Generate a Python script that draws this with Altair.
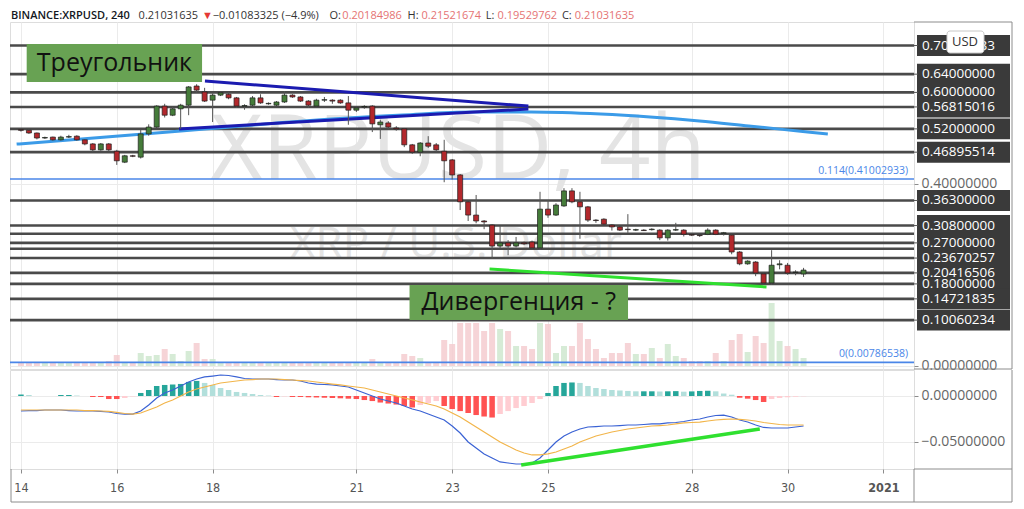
import altair as alt
import pandas as pd

# ---------------- data ----------------
# time = day of December 2020 (32 = 1 January 2021); 4h candles from 13 Dec 20:00
first_candle_day = 13 + 20 / 24
candle_hours = 4

open_ = [0.518, 0.518, 0.517, 0.511, 0.500, 0.502, 0.496, 0.502, 0.504, 0.496,
         0.487, 0.474, 0.487, 0.471, 0.447, 0.461, 0.458, 0.509, 0.524, 0.570,
         0.550, 0.564, 0.572, 0.614, 0.601, 0.583, 0.594, 0.596, 0.588, 0.570,
         0.572, 0.588, 0.575, 0.572, 0.579, 0.594, 0.590, 0.581, 0.570, 0.583,
         0.583, 0.583, 0.577, 0.561, 0.568, 0.570, 0.529, 0.533, 0.522, 0.520,
         0.485, 0.469, 0.489, 0.485, 0.471, 0.452, 0.419, 0.360, 0.331, 0.318,
         0.309, 0.263, 0.270, 0.263, 0.270, 0.272, 0.259, 0.344, 0.331, 0.351,
         0.384, 0.360, 0.349, 0.320, 0.322, 0.309, 0.305, 0.300, 0.298, 0.298,
         0.299, 0.298, 0.281, 0.298, 0.298, 0.288, 0.287, 0.289, 0.298, 0.291,
         0.287, 0.250, 0.224, 0.228, 0.202, 0.182, 0.222, 0.221, 0.205, 0.2018]
high = [0.522, 0.520, 0.520, 0.512, 0.503, 0.503, 0.505, 0.507, 0.506, 0.497,
        0.489, 0.489, 0.489, 0.474, 0.463, 0.463, 0.518, 0.530, 0.572, 0.575,
        0.568, 0.575, 0.614, 0.618, 0.610, 0.598, 0.601, 0.600, 0.590, 0.574,
        0.592, 0.596, 0.578, 0.581, 0.603, 0.596, 0.592, 0.583, 0.586, 0.590,
        0.585, 0.585, 0.592, 0.568, 0.572, 0.572, 0.540, 0.537, 0.526, 0.522,
        0.487, 0.491, 0.504, 0.489, 0.496, 0.454, 0.421, 0.362, 0.375, 0.320,
        0.311, 0.307, 0.276, 0.283, 0.273, 0.275, 0.382, 0.364, 0.357, 0.390,
        0.390, 0.382, 0.351, 0.322, 0.324, 0.311, 0.307, 0.333, 0.301, 0.300,
        0.302, 0.300, 0.300, 0.314, 0.300, 0.289, 0.288, 0.302, 0.300, 0.294,
        0.289, 0.252, 0.232, 0.230, 0.204, 0.254, 0.232, 0.226, 0.210, 0.2152]
low = [0.516, 0.514, 0.509, 0.497, 0.498, 0.494, 0.494, 0.500, 0.494, 0.484,
       0.470, 0.472, 0.471, 0.441, 0.445, 0.458, 0.455, 0.505, 0.522, 0.545,
       0.548, 0.520, 0.550, 0.600, 0.579, 0.535, 0.592, 0.585, 0.566, 0.562,
       0.570, 0.575, 0.573, 0.570, 0.577, 0.588, 0.579, 0.566, 0.568, 0.579,
       0.575, 0.575, 0.529, 0.557, 0.564, 0.513, 0.498, 0.520, 0.516, 0.480,
       0.465, 0.460, 0.478, 0.470, 0.403, 0.409, 0.342, 0.318, 0.313, 0.300,
       0.235, 0.258, 0.243, 0.260, 0.265, 0.256, 0.255, 0.325, 0.329, 0.349,
       0.357, 0.279, 0.316, 0.314, 0.309, 0.297, 0.296, 0.292, 0.296, 0.296,
       0.297, 0.276, 0.275, 0.296, 0.284, 0.285, 0.283, 0.287, 0.287, 0.286,
       0.245, 0.221, 0.222, 0.197, 0.180, 0.178, 0.212, 0.200, 0.199, 0.1953]
close = [0.519, 0.517, 0.511, 0.500, 0.501, 0.496, 0.502, 0.503, 0.496, 0.487,
         0.474, 0.487, 0.474, 0.450, 0.461, 0.460, 0.509, 0.524, 0.570, 0.550,
         0.564, 0.572, 0.612, 0.605, 0.581, 0.594, 0.599, 0.588, 0.570, 0.571,
         0.588, 0.577, 0.576, 0.579, 0.594, 0.590, 0.581, 0.572, 0.583, 0.584,
         0.581, 0.577, 0.561, 0.566, 0.569, 0.531, 0.535, 0.524, 0.520, 0.485,
         0.469, 0.489, 0.482, 0.474, 0.450, 0.419, 0.360, 0.331, 0.318, 0.316,
         0.263, 0.270, 0.263, 0.270, 0.268, 0.259, 0.344, 0.331, 0.353, 0.384,
         0.360, 0.349, 0.320, 0.319, 0.311, 0.305, 0.298, 0.299, 0.299, 0.297,
         0.300, 0.281, 0.298, 0.299, 0.289, 0.287, 0.286, 0.298, 0.289, 0.292,
         0.250, 0.224, 0.230, 0.204, 0.182, 0.221, 0.224, 0.204, 0.206, 0.2103]
# relative volume (only relative heights are readable)
volume_rel = [4, 3, 3, 4, 3, 3, 3, 4, 3, 3,
              4, 3, 5, 11, 4, 3, 13, 10, 11, 17,
              12, 5, 15, 23, 7, 7, 4, 3, 3, 3,
              3, 4, 3, 3, 3, 4, 3, 3, 3, 3,
              3, 4, 3, 3, 4, 7, 4, 4, 3, 12,
              10, 8, 4, 4, 26, 22, 43, 43, 43, 35,
              43, 37, 35, 20, 20, 17, 43, 42, 13, 20,
              20, 43, 27, 17, 8, 13, 13, 23, 12, 12,
              18, 8, 22, 10, 8, 5, 5, 5, 13, 5,
              26, 32, 14, 30, 23, 63, 25, 20, 17, 8]
macd_line = [-0.0163, -0.0163, -0.0158, -0.0158, -0.0152, -0.0152, -0.0152, -0.0158, -0.0163, -0.0163,
             -0.0163, -0.0168, -0.0174, -0.0190, -0.0196, -0.0196, -0.0163, -0.0098, -0.0022, 0.0033,
             0.0065, 0.0109, 0.0152, 0.0185, 0.0207, 0.0217, 0.0228, 0.0223, 0.0207, 0.0190,
             0.0185, 0.0185, 0.0185, 0.0179, 0.0174, 0.0174, 0.0163, 0.0141, 0.0130, 0.0125,
             0.0120, 0.0109, 0.0098, 0.0065, 0.0033, 0.0000, -0.0033, -0.0054, -0.0076, -0.0109,
             -0.0141, -0.0163, -0.0196, -0.0228, -0.0261, -0.0326, -0.0402, -0.0500, -0.0565, -0.0630,
             -0.0674, -0.0717, -0.0728, -0.0739, -0.0739, -0.0728, -0.0674, -0.0587, -0.0500, -0.0435,
             -0.0391, -0.0359, -0.0337, -0.0332, -0.0326, -0.0326, -0.0321, -0.0315, -0.0315, -0.0310,
             -0.0304, -0.0304, -0.0293, -0.0288, -0.0277, -0.0261, -0.0250, -0.0228, -0.0212, -0.0207,
             -0.0228, -0.0261, -0.0283, -0.0315, -0.0342, -0.0348, -0.0348, -0.0348, -0.0337, -0.0326]
signal_line = [-0.0152, -0.0152, -0.0152, -0.0152, -0.0152, -0.0152, -0.0152, -0.0152, -0.0152, -0.0158,
               -0.0158, -0.0163, -0.0168, -0.0179, -0.0190, -0.0196, -0.0185, -0.0152, -0.0120, -0.0076,
               -0.0043, 0.0000, 0.0043, 0.0076, 0.0098, 0.0120, 0.0141, 0.0152, 0.0163, 0.0174,
               0.0179, 0.0185, 0.0185, 0.0185, 0.0179, 0.0174, 0.0168, 0.0163, 0.0152, 0.0141,
               0.0130, 0.0120, 0.0109, 0.0098, 0.0087, 0.0065, 0.0043, 0.0022, 0.0000, -0.0022,
               -0.0043, -0.0065, -0.0087, -0.0109, -0.0141, -0.0185, -0.0228, -0.0283, -0.0337, -0.0391,
               -0.0446, -0.0500, -0.0543, -0.0587, -0.0620, -0.0641, -0.0641, -0.0630, -0.0609, -0.0576,
               -0.0543, -0.0500, -0.0467, -0.0435, -0.0413, -0.0391, -0.0375, -0.0359, -0.0348, -0.0337,
               -0.0326, -0.0321, -0.0315, -0.0304, -0.0293, -0.0288, -0.0283, -0.0272, -0.0261, -0.0255,
               -0.0250, -0.0255, -0.0261, -0.0272, -0.0288, -0.0299, -0.0310, -0.0315, -0.0315, -0.0315]
macd_hist = [0.0011, 0.0016, 0.0011, 0.0, 0.0, 0.0, 0.0011, 0.0011, 0.0005, 0.0,
             -0.0011, -0.0011, -0.0033, -0.0033, -0.0022, -0.0005, 0.0033, 0.0065, 0.0109, 0.0120,
             0.0125, 0.0131, 0.0153, 0.0164, 0.0142, 0.0120, 0.0087, 0.0065, 0.0044, 0.0033,
             0.0022, 0.0011, 0.0005, -0.0011, -0.0005, -0.0011, -0.0011, -0.0014, -0.0016, -0.0019,
             -0.0022, -0.0025, -0.0029, -0.0033, -0.0044, -0.0055, -0.0071, -0.0082, -0.0093, -0.0109,
             -0.0125, -0.0098, -0.0076, -0.0055, -0.0109, -0.0142, -0.0164, -0.0185, -0.0207, -0.0223,
             -0.0234, -0.0196, -0.0164, -0.0131, -0.0109, -0.0076, -0.0033, 0.0033, 0.0109, 0.0142,
             0.0147, 0.0142, 0.0109, 0.0087, 0.0076, 0.0065, 0.0060, 0.0055, 0.0051, 0.0051,
             0.0051, 0.0049, 0.0051, 0.0053, 0.0047, 0.0050, 0.0055, 0.0057, 0.0051, 0.0027,
             0.0014, -0.0019, -0.0029, -0.0044, -0.0065, -0.0033, -0.0022, -0.0014, -0.0008, -0.0003]

# horizontal levels with price labels, and unlabelled extra levels
level_prices = [0.70282283, 0.64, 0.60, 0.56815016, 0.52, 0.46895514, 0.363,
                0.308, 0.27, 0.23670257, 0.20416506, 0.18, 0.14721835, 0.10060234]
level_labels = ["0.70282283", "0.64000000", "0.60000000", "0.56815016", "0.52000000",
                "0.46895514", "0.36300000", "0.30800000", "0.27000000", "0.23670257",
                "0.20416506", "0.18000000", "0.14721835", "0.10060234"]
extra_levels = [0.29, 0.257]
fib_prices = [0.41002933, 0.00786538]
fib_labels = ["0.114(0.41002933)", "0(0.00786538)"]

# drawn lines (day, price)
ma_days = [13.91, 15.78, 17.84, 19.90, 21.97, 23.41, 24.65, 26.10, 27.13, 28.16, 29.19, 30.22, 30.84]
ma_prices = [0.4866, 0.5022, 0.5197, 0.5373, 0.5504, 0.5570, 0.5570, 0.5526, 0.5461, 0.5373, 0.5263, 0.5154, 0.5088]
tri_seg = ["upper", "upper", "lower", "lower"]
tri_days = [17.84, 24.59, 17.30, 24.59]
tri_prices = [0.625, 0.570, 0.520, 0.5636]
div_price_days = [23.78, 29.56]
div_price_vals = [0.2127, 0.1732]
div_macd_days = [24.44, 29.42]
div_macd_vals = [-0.0750, -0.0359]

note_texts = ["Треугольник", "Дивергенция - ?"]
note_day1 = [14.12, 22.11]
note_day2 = [17.78, 26.67]
note_p1 = [0.706, 0.1776]
note_p2 = [0.623, 0.1009]

header_texts = ["0.21031635", "▼", "−0.01083325 (−4.9%)", "O:", "0.20184986",
                "H:", "0.21521674", "L:", "0.19529762", "C:", "0.21031635"]
header_colors = ["#333333", "#e53935", "#333333", "#333333", "#e57373",
                 "#333333", "#e57373", "#333333", "#e57373", "#333333", "#e57373"]
header_px = [125, 189, 200, 318, 331, 397, 411, 476, 488, 553, 566]
x_tick_days = [14, 16, 18, 21, 23, 25, 28, 30, 32]

# ---------------- tables ----------------
n = len(open_)
t = [first_candle_day + i * candle_hours / 24 for i in range(n)]
GREEN, RED = "#457c3a", "#b3282c"
candles = pd.DataFrame({"t": t, "open": open_, "high": high, "low": low, "close": close,
                        "vol": volume_rel})
candles["bcol"] = [GREEN if c >= o else RED for o, c in zip(open_, close)]
candles["vcol"] = ["#cfe7cf" if c >= o else "#f5ccd0" for o, c in zip(open_, close)]

hcol = []
for i, v in enumerate(macd_hist):
    prev = macd_hist[i - 1] if i > 0 else 0
    if v >= 0:
        hcol.append("#26a69a" if v >= prev else "#b2dfdb")
    else:
        hcol.append("#ff5252" if v <= prev else "#ffcdd2")
macd_df = pd.DataFrame({"t": t, "macd": macd_line, "signal": signal_line, "hist": macd_hist, "hcol": hcol})

levels = pd.DataFrame({"price": level_prices, "label": level_labels})
all_lines = pd.DataFrame({"price": level_prices + extra_levels})
fib = pd.DataFrame({"price": fib_prices, "label": fib_labels})
ma = pd.DataFrame({"day": ma_days, "price": ma_prices})
tri = pd.DataFrame({"seg": tri_seg, "day": tri_days, "price": tri_prices})
divp = pd.DataFrame({"day": div_price_days, "price": div_price_vals})
divm = pd.DataFrame({"day": div_macd_days, "val": div_macd_vals})
notes = pd.DataFrame({"txt": note_texts, "d1": note_day1, "d2": note_day2, "p1": note_p1, "p2": note_p2})
header = pd.DataFrame({"txt": header_texts, "col": header_colors, "px": header_px})
one = pd.DataFrame({"a": [0]})

# ---------------- layout ----------------
W, H1, H2, AX, TA = 904, 347, 99, 98, 33
XDOM = [13.876, 32.534]
# candles whose body would stick out past the left frame are left out of view
in_view = f"datum.t > {XDOM[0] + 0.06}"
xs = alt.Scale(domain=XDOM, nice=False, zero=False)
ps = alt.Scale(domain=[-0.0066, 0.7544], nice=False, zero=False)
ms = alt.Scale(domain=[-0.07935, 0.02826], nice=False, zero=False)
GRID = "#ebebeb"
FRAME = "#8c8c8c"
FONT = "Open Sans"

x_hidden = alt.Axis(values=x_tick_days, labels=False, ticks=False, domain=False, grid=True,
                    gridColor=GRID, title=None)
x_bottom = alt.Axis(values=x_tick_days, labelExpr="datum.value == 32 ? '2021' : datum.value",
                    grid=True, gridColor=GRID, tickSize=4, tickColor=FRAME, labelFontSize=12.5,
                    labelColor="#555555", labelFont="Liberation Sans Narrow, DejaVu Sans Condensed, sans-serif",
                    labelPadding=8, domain=False, labelFlush=False, title=None,
                    labelFontWeight={"condition": {"test": "datum.value == 32", "value": "bold"},
                                     "value": "normal"})
price_axis = alt.Axis(orient="right", values=[0.0, 0.4], format=".8f", title=None, labelColor="#666666",
                      labelFontSize=14, labelFont=FONT, tickSize=4, tickColor=FRAME, domain=False,
                      grid=True, gridColor=GRID, labelPadding=3)
macd_axis = alt.Axis(orient="right", values=[0.0, -0.05], format=".8f", title=None, labelColor="#666666",
                     labelFontSize=14, labelFont=FONT, tickSize=4, tickColor=FRAME, domain=False,
                     grid=True, gridColor=GRID, labelPadding=3)


def PX(f):
    return alt.X(f, type="quantitative", scale=xs, axis=x_hidden)


def PY(f):
    return alt.Y(f, type="quantitative", scale=ps, axis=price_axis)


def MX(f):
    return alt.X(f, type="quantitative", scale=xs, axis=x_bottom)


def MY(f):
    return alt.Y(f, type="quantitative", scale=ms, axis=macd_axis)


# ---------------- price pane ----------------
wm1 = alt.Chart(pd.DataFrame({"w": ["XRPUSD, 4h"]})).mark_text(
    fontSize=90, font=FONT, color="#e4e4e4").encode(x=alt.value(448), y=alt.value(130), text="w:N")
wm2 = alt.Chart(pd.DataFrame({"w": ["XRP / U.S. Dollar"]})).mark_text(
    fontSize=44, font=FONT, color="#e4e4e4").encode(x=alt.value(446), y=alt.value(223), text="w:N")
vol = alt.Chart(candles).transform_filter(in_view).mark_bar(size=6, opacity=0.85).encode(
    x=PX("t"), y=alt.Y("vol:Q", scale=alt.Scale(domain=[-3, 344], nice=False), axis=None),
    fill=alt.Fill("vcol:N", scale=None))
back = alt.layer(wm1, wm2, vol)

fib_rule = alt.Chart(fib).mark_rule(color="#4a86e8", strokeWidth=1.6).encode(y=PY("price"))
fib_txt = alt.Chart(fib).mark_text(align="right", baseline="bottom", dy=-3, fontSize=10.5, font=FONT,
                                   color="#4a86e8").encode(x=alt.value(W - 6), y=PY("price"), text="label:N")
lvl_rule = alt.Chart(all_lines).mark_rule(color="#4a4a4a", strokeWidth=2.6).encode(y=PY("price"))
ma_line = alt.Chart(ma).mark_line(color="#3b9be8", strokeWidth=3, interpolate="monotone").encode(
    x=PX("day"), y=PY("price"))
tri_line = alt.Chart(tri).mark_line(color="#1b1bb0", strokeWidth=3).encode(
    x=PX("day"), y=PY("price"), detail="seg:N")
wick = alt.Chart(candles).transform_filter(in_view).mark_rule(color="#555555", strokeWidth=1).encode(
    x=PX("t"), y=PY("low"), y2="high:Q")
body = alt.Chart(candles).transform_filter(in_view).mark_bar(size=5, stroke="#1e1e1e", strokeWidth=0.7).encode(
    x=PX("t"), y=PY("open"), y2="close:Q", fill=alt.Fill("bcol:N", scale=None))
divp_line = alt.Chart(divp).mark_line(color="#2fe02f", strokeWidth=3).encode(x=PX("day"), y=PY("price"))
note_box = alt.Chart(notes).mark_rect(color="#68a253").encode(
    x=PX("d1"), x2="d2:Q", y=PY("p1"), y2="p2:Q")
note_txt = alt.Chart(notes).transform_calculate(
    cx="(datum.d1 + datum.d2) / 2", cy="(datum.p1 + datum.p2) / 2").mark_text(
    font=FONT, fontSize=25, color="#111111", baseline="middle").encode(
    x=PX("cx"), y=PY("cy"), text="txt:N")
lab_box = alt.Chart(levels).transform_calculate(
    top="datum.price + 0.023", bot="datum.price - 0.023").mark_rect(color="#3a3a3a").encode(
    x=alt.value(W + 3), x2=alt.value(W + 96), y=PY("top"), y2="bot:Q")
lab_tick = alt.Chart(levels).mark_rule(color="#555555").encode(
    x=alt.value(W), x2=alt.value(W + 4), y=PY("price"))
lab_txt = alt.Chart(levels).mark_text(align="left", baseline="middle", font=FONT, fontSize=13.5,
                                      color="white").encode(x=alt.value(W + 8), y=PY("price"), text="label:N")
usd_box = alt.Chart(one).mark_rect(fill="white", stroke="#c8c8c8", cornerRadius=3).encode(
    x=alt.value(W + 33), x2=alt.value(W + 70), y=alt.value(9), y2=alt.value(31))
usd_txt = alt.Chart(pd.DataFrame({"u": ["USD"]})).mark_text(font=FONT, fontSize=13, color="#333333").encode(
    x=alt.value(W + 51), y=alt.value(20), text="u:N")
head0 = alt.Chart(pd.DataFrame({"h": ["BINANCE:XRPUSD, 240"]})).mark_text(
    align="left", baseline="middle", font=FONT, fontSize=11, fontWeight=600, color="#131722").encode(
    x=alt.value(1), y=alt.value(-6), text="h:N")
head = alt.Chart(header).transform_calculate(
    d=f"{XDOM[0]} + datum.px * {(XDOM[1] - XDOM[0]) / W}").mark_text(
    align="left", baseline="middle", font=FONT, fontSize=11).encode(
    x=PX("d"), y=alt.value(-6), text="txt:N", color=alt.Color("col:N", scale=None))
fr1 = alt.Chart(one).mark_rule(color=FRAME).encode(x=alt.value(W), x2=alt.value(W + AX), y=alt.value(0))
fr2 = alt.Chart(one).mark_rule(color=FRAME).encode(x=alt.value(W), x2=alt.value(W + AX), y=alt.value(H1))
fr3 = alt.Chart(one).mark_rule(color=FRAME).encode(x=alt.value(W + AX), y=alt.value(0), y2=alt.value(H1))

front = alt.layer(fib_rule, fib_txt, lvl_rule, ma_line, tri_line, wick, body, divp_line,
                  note_box, note_txt, lab_box, lab_tick, lab_txt, usd_box, usd_txt, head0, head,
                  fr1, fr2, fr3)
price = alt.layer(back, front).resolve_scale(y="independent").properties(width=W, height=H1)

# ---------------- MACD pane ----------------
hist = alt.Chart(macd_df).transform_filter(in_view).mark_bar(size=5.5).encode(
    x=MX("t"), y=MY("hist"), fill=alt.Fill("hcol:N", scale=None))
mline = alt.Chart(macd_df).transform_filter(in_view).mark_line(color="#3a62d4", strokeWidth=1.2).encode(
    x=MX("t"), y=MY("macd"))
sline = alt.Chart(macd_df).transform_filter(in_view).mark_line(color="#f2b54a", strokeWidth=1.2).encode(
    x=MX("t"), y=MY("signal"))
divm_line = alt.Chart(divm).mark_line(color="#2fe02f", strokeWidth=3.5).encode(x=MX("day"), y=MY("val"))
g1 = alt.Chart(one).mark_rule(color=FRAME).encode(x=alt.value(W + AX), y=alt.value(0), y2=alt.value(H2 + TA))
g2 = alt.Chart(one).mark_rule(color=FRAME).encode(x=alt.value(W), x2=alt.value(W + AX), y=alt.value(H2))
g3 = alt.Chart(one).mark_rule(color=FRAME).encode(x=alt.value(1), x2=alt.value(W + AX), y=alt.value(H2 + TA))
g4 = alt.Chart(one).mark_rule(color=FRAME).encode(x=alt.value(1), y=alt.value(H2), y2=alt.value(H2 + TA))
g5 = alt.Chart(one).mark_rule(color=FRAME).encode(x=alt.value(W), y=alt.value(H2), y2=alt.value(H2 + TA))
macd = alt.layer(hist, mline, sline, divm_line, g1, g2, g3, g4, g5).properties(width=W, height=H2)

chart = alt.vconcat(price, macd, spacing=1, bounds="flush").properties(
    padding={"left": 0, "top": 1, "right": 0, "bottom": 0}
).configure_view(stroke=FRAME, strokeWidth=1).configure(background="white")

chart.save("out.html", embed_options={"renderer": "svg", "actions": False})
